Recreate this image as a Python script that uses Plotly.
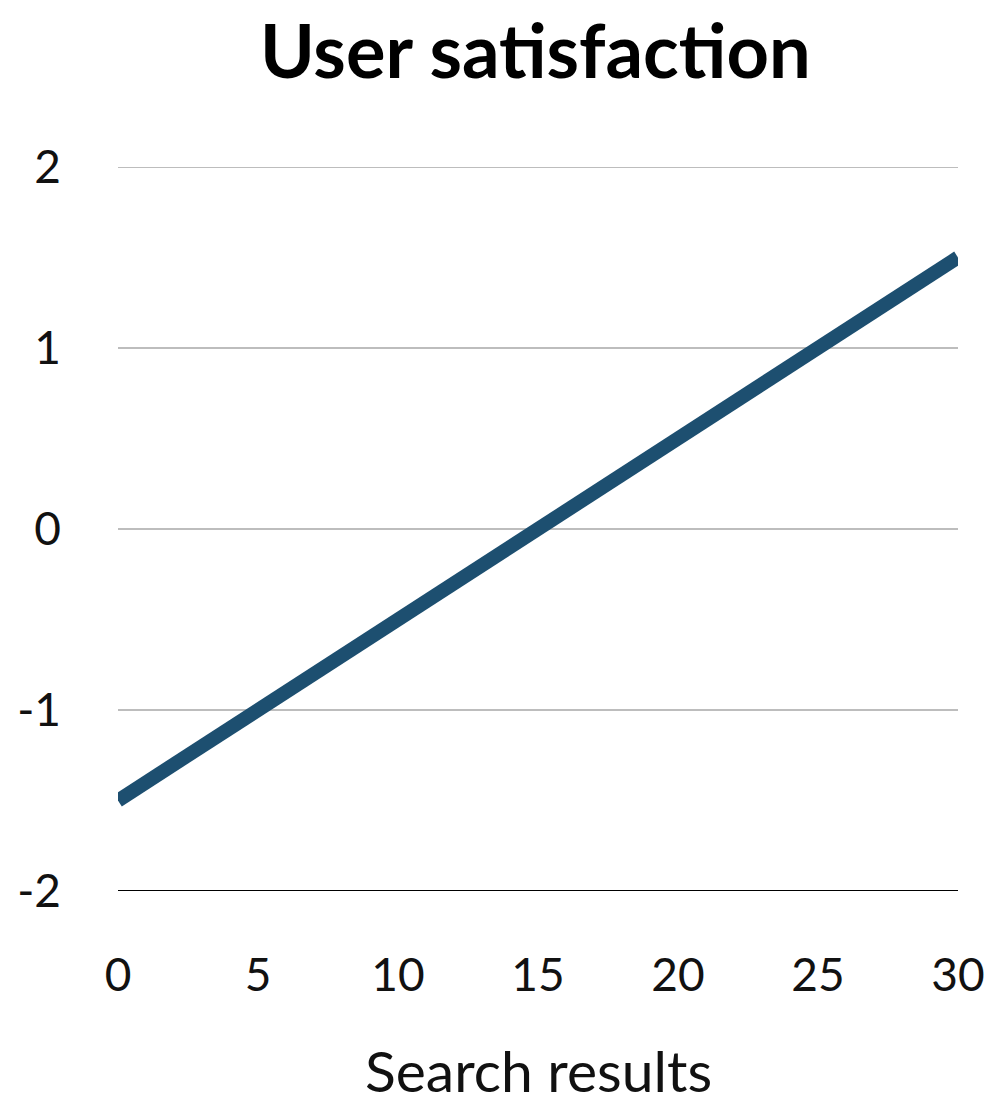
import plotly.graph_objects as go

x_vals = [0, 30]
y_vals = [-1.5, 1.5]
x_ticks = [0, 5, 10, 15, 20, 25, 30]
y_ticks = [-2, -1, 0, 1, 2]
y_tick_labels = ["-2", "-1", "0", "1", "2"]

fig = go.Figure()
fig.add_trace(go.Scatter(x=x_vals, y=y_vals, mode="lines",
                         line=dict(color="#1d4f70", width=14), showlegend=False))

fig.update_layout(
    width=1007, height=1108,
    margin=dict(l=118, r=49, t=167, b=217),
    paper_bgcolor="white", plot_bgcolor="white",
    font=dict(family="Lato", color="#111111"),
)
fig.update_xaxes(range=[0, 30], tickvals=x_ticks, showgrid=False, zeroline=False,
                 showline=False, tickfont=dict(size=46), ticklabelstandoff=53,
                 automargin=False)
fig.update_yaxes(range=[-2, 2], tickvals=y_ticks, ticktext=y_tick_labels,
                 showgrid=True, gridcolor="#bdbdbd",
                 gridwidth=2, zeroline=False, showline=False,
                 tickfont=dict(size=46), ticklabelstandoff=56, automargin=False)
fig.add_shape(type="line", xref="paper", yref="y", x0=0, x1=1, y0=y_ticks[-1], y1=y_ticks[-1],
              line=dict(color="#bdbdbd", width=2), layer="below")
fig.add_shape(type="line", xref="paper", yref="y", x0=0, x1=1, y0=y_ticks[0], y1=y_ticks[0],
              line=dict(color="#000000", width=2))
fig.add_annotation(text="<b>User satisfaction</b>", xref="paper", yref="paper",
                   x=0.497, y=(891 - 3) / 724, xanchor="center", yanchor="top",
                   showarrow=False, font=dict(size=74, color="#000000"))
fig.add_annotation(text="Search results", xref="paper", yref="paper",
                   x=0.5, y=(891 - 1106) / 724, xanchor="center", yanchor="bottom",
                   showarrow=False, font=dict(size=57, color="#111111"))

fig.write_html("out.html")
